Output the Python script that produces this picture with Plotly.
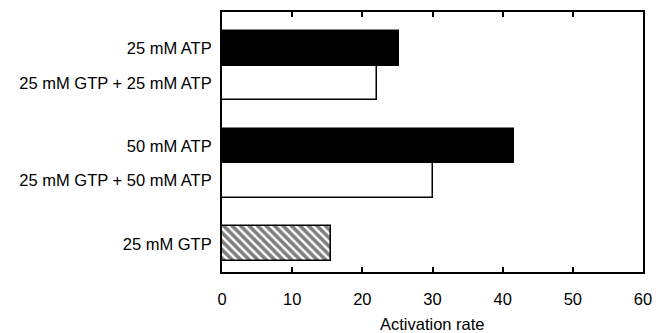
import plotly.graph_objects as go

# Data
groups = [
    ["25 mM ATP", "25 mM GTP + 25 mM ATP"],
    ["50 mM ATP", "25 mM GTP + 50 mM ATP"],
    ["25 mM GTP"],
]
values = [
    [25.2, 22.1],
    [41.6, 30.0],
    [15.6],
]
styles = [
    ["solid", "open"],
    ["solid", "open"],
    ["hatch"],
]
x_ticks = [0, 10, 20, 30, 40, 50, 60]
x_title = "Activation rate"

group_step = 2.83  # spacing between groups, in bar units

fig = go.Figure()
tickvals, ticktext = [], []
for gi, (labels, vals, sts) in enumerate(zip(groups, values, styles)):
    for k, (lab, v, st) in enumerate(zip(labels, vals, sts)):
        pos = gi * group_step + k
        tickvals.append(pos)
        ticktext.append(lab)
        if st == "solid":
            marker = dict(color="black", line=dict(color="black", width=1.5))
        elif st == "open":
            marker = dict(color="white", line=dict(color="black", width=1.5))
        else:
            marker = dict(color="white", line=dict(color="black", width=1.5),
                          pattern=dict(shape="\\", fgcolor="black", bgcolor="white",
                                       size=6, solidity=0.6, fillmode="overlay"))
        fig.add_trace(go.Bar(x=[v], y=[pos], orientation="h", width=1.0,
                             marker=marker, showlegend=False))

fig.update_layout(
    width=656, height=333,
    margin=dict(l=222, r=13, t=12, b=61),
    paper_bgcolor="white", plot_bgcolor="white",
    font=dict(family="Liberation Sans, Arial, sans-serif", size=16.5, color="black"),
    bargap=0,
)
fig.add_annotation(
    text=x_title, xref="paper", yref="paper", x=0.5, y=0,
    xanchor="center", yanchor="middle", yshift=-52, showarrow=False,
    font=dict(size=16.5),
)
fig.update_xaxes(
    range=[0, 60], tickvals=x_ticks, ticks="inside", ticklen=5, tickwidth=1.5,
    tickcolor="black", showline=True, linewidth=2, linecolor="black", mirror="ticks",
    showgrid=False, zeroline=False, ticklabelstandoff=11, automargin=False,
)
fig.update_yaxes(
    range=[6.48, -1.06], tickvals=tickvals, ticktext=ticktext, ticks="",
    showline=True, linewidth=2, linecolor="black", mirror=True,
    showgrid=False, zeroline=False, ticklabelstandoff=5, automargin=False,
)

fig.write_html("out.html")
